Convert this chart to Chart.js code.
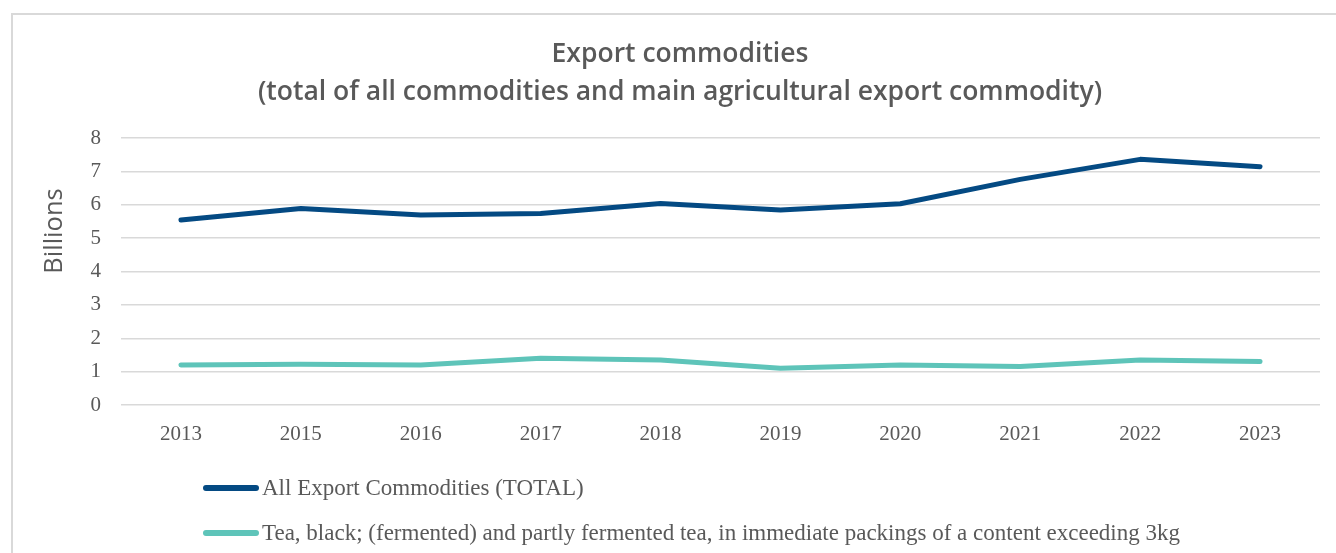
<!DOCTYPE html>
<html>
<head>
<meta charset="utf-8">
<script src="https://cdn.jsdelivr.net/npm/chart.js@4"></script>
<style>
  html, body { margin: 0; padding: 0; background: #ffffff; overflow: hidden; }
  #wrap { position: relative; width: 1336px; height: 553px; overflow: hidden; }
  #frame { position: absolute; left: 11px; top: 13px; width: 1400px; height: 600px;
           border: 2px solid #d9d9d9; box-sizing: border-box; }
  #chart { position: absolute; left: 0; top: 0; }
  #legend { position: absolute; left: 203px; top: 0; font-family: "Liberation Serif", serif;
            font-size: 23px; color: #595959; }
  .row { position: absolute; left: 0; display: flex; align-items: center; white-space: nowrap;
         height: 28px; transform: translateY(-50%); }
  .swatch { width: 56px; height: 6px; border-radius: 3px; margin-right: 3px; }
</style>
</head>
<body>
<div id="wrap">
  <div id="frame"></div>
  <canvas id="chart" width="1336" height="553"></canvas>
  <div id="legend"></div>
</div>
<script>
// Years shown on the category axis
const years = ['2013', '2015', '2016', '2017', '2018', '2019', '2020', '2021', '2022', '2023'];

// Export values in billions
const totalExports = [5.54, 5.89, 5.69, 5.74, 6.04, 5.84, 6.03, 6.76, 7.36, 7.14];
const teaExports   = [1.20, 1.22, 1.20, 1.40, 1.35, 1.10, 1.20, 1.15, 1.35, 1.30];

const seriesNames = [
  'All Export Commodities (TOTAL)',
  'Tea, black; (fermented) and partly fermented tea, in immediate packings of a content exceeding 3kg'
];
const titleLines = [
  'Export commodities',
  '(total of all commodities and main agricultural export commodity)'
];
const yAxisTitle = 'Billions';
const yTicks = [0, 1, 2, 3, 4, 5, 6, 7, 8];

const textGray = '#595959';
const gridGray = '#d9d9d9';

// Rotated axis caption, placed a little above the middle of the plot
const yCaption = {
  id: 'yCaption',
  afterDraw(chart) {
    const ctx = chart.ctx;
    ctx.save();
    ctx.translate(55, 231);
    ctx.rotate(-Math.PI / 2);
    ctx.font = '25.5px "Open Sans"';
    ctx.fillStyle = textGray;
    ctx.textAlign = 'center';
    ctx.textBaseline = 'middle';
    ctx.fillText(yAxisTitle, 0, 0);
    ctx.restore();
  }
};

const chart = new Chart(document.getElementById('chart'), {
  type: 'line',
  data: {
    labels: years,
    datasets: [
      { label: seriesNames[0], data: totalExports, borderColor: '#044a83', backgroundColor: '#044a83' },
      { label: seriesNames[1], data: teaExports, borderColor: '#5ec4b9', backgroundColor: '#5ec4b9' }
    ]
  },
  options: {
    responsive: false,
    animation: false,
    layout: { padding: { left: 40, right: 16, top: 0, bottom: 0 } },
    elements: {
      line: { borderWidth: 5, tension: 0, borderCapStyle: 'round', borderJoinStyle: 'round' },
      point: { radius: 0, hoverRadius: 0 }
    },
    plugins: {
      legend: { display: false },
      tooltip: { enabled: false },
      title: {
        display: true,
        text: titleLines,
        color: textGray,
        font: { family: 'Open Sans', size: 26.5, weight: '600', lineHeight: 38 / 26.5 },
        padding: { top: 35, bottom: 27 }
      }
    },
    scales: {
      x: {
        offset: true,
        grid: { display: false },
        border: { display: false },
        ticks: { color: textGray, font: { family: 'Liberation Serif', size: 21 }, padding: 9, maxRotation: 0 },
        afterFit(scale) { scale.height = 148; }
      },
      y: {
        min: 0,
        max: 8,
        afterBuildTicks(scale) { scale.ticks = yTicks.map(v => ({ value: v })); },
        grid: { color: gridGray, lineWidth: 1.5, drawTicks: false },
        border: { display: false },
        ticks: { color: textGray, font: { family: 'Liberation Serif', size: 21 }, padding: 20 },
        afterFit(scale) { scale.width = 81; }
      }
    }
  },
  plugins: [yCaption]
});

// Legend rows, one per series, stacked under the axis
const legend = document.getElementById('legend');
const rowCenters = [488, 533];
chart.data.datasets.forEach((ds, i) => {
  const row = document.createElement('div');
  row.className = 'row';
  row.style.top = rowCenters[i] + 'px';
  const sw = document.createElement('span');
  sw.className = 'swatch';
  sw.style.background = ds.borderColor;
  const label = document.createElement('span');
  label.textContent = ds.label;
  row.appendChild(sw);
  row.appendChild(label);
  legend.appendChild(row);
});
</script>
</body>
</html>
